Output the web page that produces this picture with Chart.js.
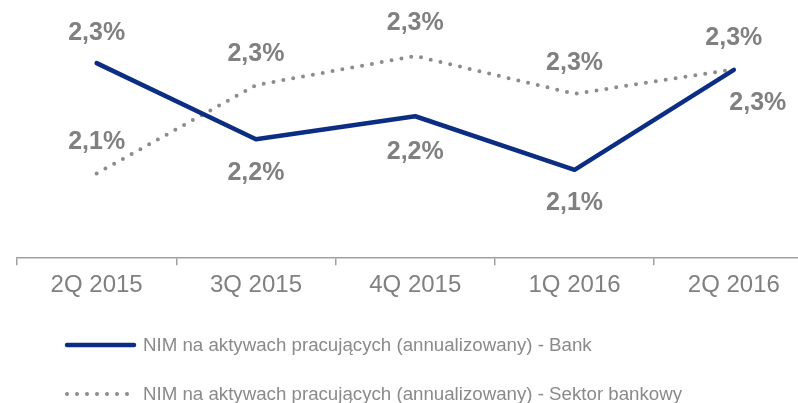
<!DOCTYPE html>
<html>
<head>
<meta charset="utf-8">
<script src="https://cdn.jsdelivr.net/npm/chart.js@4/dist/chart.umd.min.js"></script>
<style>
  html, body { margin: 0; padding: 0; background: #ffffff; overflow: hidden; width: 798px; height: 403px; }
  #wrap { position: relative; width: 816px; height: 403px; }
  #c { position: absolute; left: 0; top: 0; }
  #legend { position: absolute; left: 0; top: 0; width: 798px; height: 403px; pointer-events: none;
            font-family: "Liberation Sans", Arial, sans-serif; font-size: 18.7px; color: #8a8a8a; }
  .row { position: absolute; left: 64px; height: 24px; display: flex; align-items: center; white-space: nowrap; }
  .row svg { margin-right: 3px; }
</style>
</head>
<body>
<div id="wrap">
  <canvas id="c" width="816" height="403"></canvas>
  <div id="legend"></div>
</div>
<script>
const categories = ['2Q 2015', '3Q 2015', '4Q 2015', '1Q 2016', '2Q 2016'];
const bankValues = [2.312, 2.163, 2.208, 2.103, 2.299];
const sectorValues = [2.096, 2.269, 2.326, 2.252, 2.300];
const seriesNames = [
  'NIM na aktywach pracujących (annualizowany) - Bank',
  'NIM na aktywach pracujących (annualizowany) - Sektor bankowy'
];

const NAVY = '#0b2d84';
const GRAY_LINE = '#8c8c8c';
const GRAY_TEXT = '#808080';

// label placement: [dx, dy] relative to point
const bankLabelOffsets = [[0, -30], [0, 34], [0, 36], [0, 33], [24, 33]];
const sectorLabelOffsets = [[0, -31], [0, -31], [0, -33], [0, -31], [0, -31]];

const fmt = v => v.toFixed(1).replace('.', ',') + '%';

const labelPlugin = {
  id: 'valueLabels',
  afterDatasetsDraw(chart) {
    const ctx = chart.ctx;
    const offsets = [bankLabelOffsets, sectorLabelOffsets];
    ctx.save();
    ctx.font = 'bold 25px "Liberation Sans", Arial, sans-serif';
    ctx.fillStyle = GRAY_TEXT;
    ctx.textAlign = 'center';
    ctx.textBaseline = 'middle';
    chart.data.datasets.forEach((ds, di) => {
      const meta = chart.getDatasetMeta(di);
      meta.data.forEach((pt, i) => {
        const [dx, dy] = offsets[di][i];
        ctx.fillText(fmt(ds.data[i]), pt.x + dx, pt.y + dy);
      });
    });
    ctx.restore();
  }
};

const chart = new Chart(document.getElementById('c'), {
  type: 'line',
  data: {
    labels: categories,
    datasets: [
      {
        label: seriesNames[0],
        data: bankValues,
        borderColor: NAVY,
        backgroundColor: NAVY,
        borderWidth: 4.5,
        borderCapStyle: 'round',
        borderJoinStyle: 'round',
        pointRadius: 0,
        tension: 0,
        fill: false
      },
      {
        label: seriesNames[1],
        data: sectorValues,
        borderColor: GRAY_LINE,
        backgroundColor: GRAY_LINE,
        borderWidth: 4,
        borderDash: [0, 10],
        borderCapStyle: 'round',
        pointRadius: 0,
        tension: 0,
        fill: false
      }
    ]
  },
  options: {
    responsive: false,
    animation: false,
    events: [],
    layout: { padding: { left: 17, right: 2.5, top: 8, bottom: 97 } },
    plugins: { legend: { display: false }, tooltip: { enabled: false } },
    scales: {
      x: {
        offset: true,
        border: { display: true, color: '#a0a0a0', width: 1.5 },
        grid: { display: true, offset: true, drawOnChartArea: false, drawTicks: true, tickLength: 7, color: '#a0a0a0', lineWidth: 1.5 },
        ticks: { color: GRAY_TEXT, padding: 6, font: { family: '"Liberation Sans", Arial, sans-serif', size: 24 }, maxRotation: 0, autoSkip: false }
      },
      y: { display: false, min: 1.93, max: 2.42 }
    }
  },
  plugins: [labelPlugin]
});

// HTML legend built from the datasets
const legendEl = document.getElementById('legend');
const rowCenters = [345, 394];
chart.data.datasets.forEach((ds, i) => {
  const row = document.createElement('div');
  row.className = 'row';
  row.style.top = (rowCenters[i] - 12) + 'px';
  const dash = ds.borderDash && ds.borderDash.length ? ` stroke-dasharray="${ds.borderDash.join(' ')}"` : '';
  row.innerHTML = `<svg width="76" height="24"><line x1="3" y1="12" x2="${ds.borderDash ? 68 : 70}" y2="12" stroke="${ds.borderColor}" stroke-width="${ds.borderWidth}" stroke-linecap="round"${dash}/></svg><span>${ds.label}</span>`;
  legendEl.appendChild(row);
});
</script>
</body>
</html>
